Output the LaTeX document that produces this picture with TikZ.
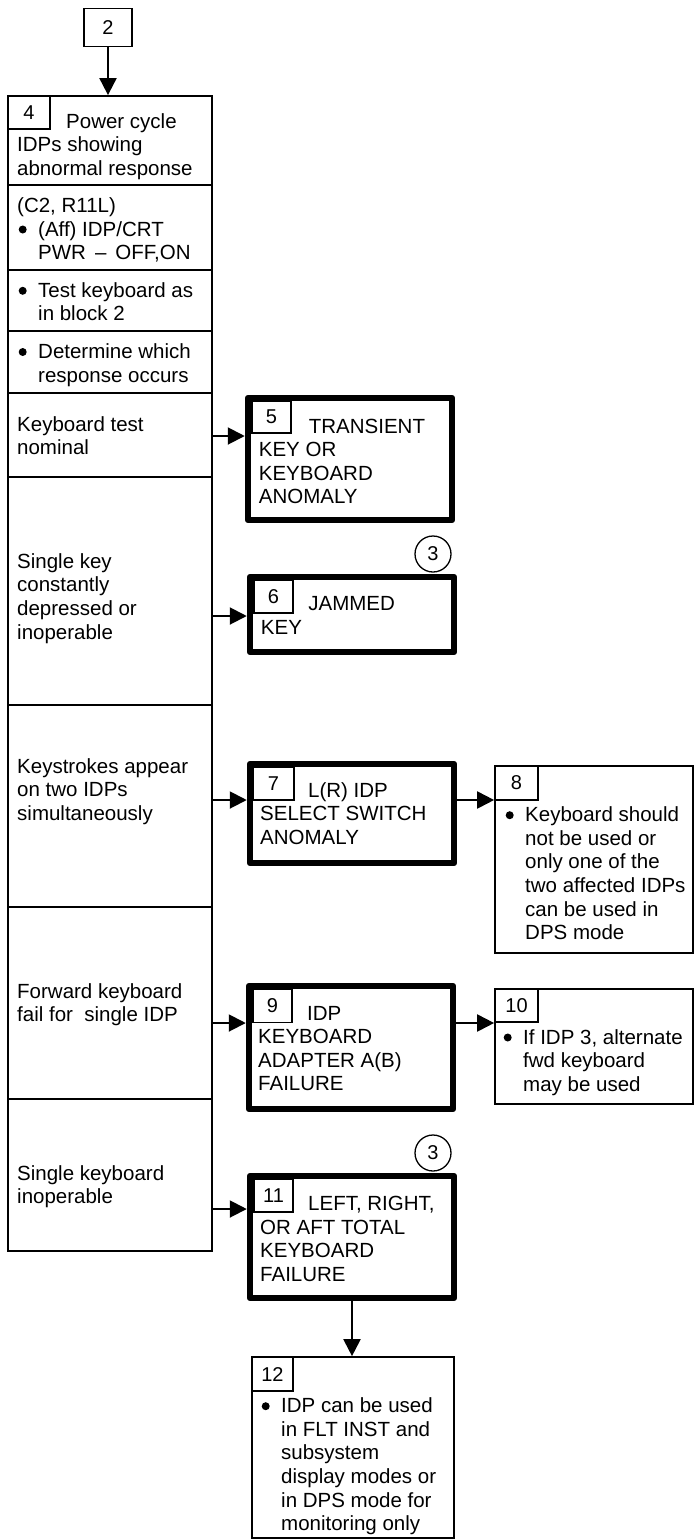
\documentclass[tikz,border=0pt]{standalone}
\usepackage{fontspec}
\setmainfont{Liberation Sans}
\usetikzlibrary{arrows.meta,calc}
\newcommand{\ktext}{\fontsize{20.5}{23.6}\selectfont}
\newcommand{\knumf}{\fontsize{20}{22}\selectfont}
\newcommand{\kbul}{\llap{\raisebox{2.5pt}{\tikz\fill (0,0) circle (4pt);}\hspace{11.5pt}}}
\newcommand{\klines}[1]{\begin{tabular}[t]{@{}l@{}}#1\end{tabular}}
\tikzset{
  kcell/.style={draw,line width=1.8pt,inner sep=0pt,minimum width=204pt},
  kheavy/.style={draw,line width=6.5pt,line join=round,inner sep=0pt,minimum width=204pt},
  kthin/.style={draw,line width=1.7pt,inner sep=0pt},
  knum/.style={draw,line width=1.6pt,inner sep=0pt,minimum width=41pt,minimum height=33pt,font=\knumf},
  ktxt/.style={anchor=base west,inner sep=0pt,font=\ktext},
  karr/.style={line width=2pt,-{Triangle[length=17pt,width=17pt]}},
  kref/.style={draw,circle,line width=1.3pt,minimum size=36pt,inner sep=0pt,font=\knumf},
}

\begin{document}
\begin{tikzpicture}[x=1pt,y=-1pt]
\useasboundingbox (0,0) rectangle (696,1540);
% entry block
\node[knum,minimum width=48pt,minimum height=38pt] (b2) at (108,27.5) {2};
% left column of responses
\node[kcell,minimum height=89pt] (r1) at (110,140.5) {};
\node[kcell,minimum height=85pt] (r2) at (110,227.5) {};
\node[kcell,minimum height=61pt] (r3) at (110,300.5) {};
\node[kcell,minimum height=62pt] (r4) at (110,362) {};
\node[kcell,minimum height=84pt] (r5) at (110,435) {};
\node[kcell,minimum height=228pt] (r6) at (110,591) {};
\node[kcell,minimum height=202pt] (r7) at (110,806) {};
\node[kcell,minimum height=192pt] (r8) at (110,1003) {};
\node[kcell,minimum height=152pt] (r9) at (110,1175) {};
\node[knum,minimum width=42pt] (n4) at (29,112.5) {4};
\node[ktxt] (t1) at (17,128) {\klines{\hspace*{49pt}Power cycle\\IDPs showing\\abnormal response}};
\node[ktxt] (t2a) at (17,212) {(C2, R11L)};
\node[ktxt] (t2b) at (38,236) {\klines{\kbul(Aff) IDP/CRT\\PWR\hspace{9pt}\textendash\hspace{9pt}OFF,ON}};
\node[ktxt] (t3) at (38,297.3) {\klines{\kbul Test keyboard as\\in block 2}};
\node[ktxt] (t4) at (38,358.5) {\klines{\kbul Determine which\\response occurs}};
\node[ktxt] (t5) at (17,431) {\klines{Keyboard test\\nominal}};
\node[ktxt] (t6) at (17,568.3) {\klines{Single key\\constantly\\depressed or\\inoperable}};
\node[ktxt] (t7) at (17,773.3) {\klines{Keystrokes appear\\on two IDPs\\simultaneously}};
\node[ktxt] (t8) at (17,998.3) {\klines{Forward keyboard\\fail for\ \ single IDP}};
\node[ktxt] (t9) at (17,1180) {\klines{Single keyboard\\inoperable}};
% outcome blocks
\node[kheavy,minimum height=122pt] (b5) at (350,459) {};
\node[knum,minimum width=39pt,minimum height=32pt] (n5) at (271.5,417) {5};
\node[ktxt] (tb5) at (258.7,433) {\klines{\hspace*{50pt}TRANSIENT\\KEY OR\\KEYBOARD\\ANOMALY}};
\node[kref] (c6) at (433,554) {3};
\node[kheavy,minimum height=75pt] (b6) at (352,614.5) {};
\node[knum,minimum width=39pt] (n6) at (273.5,596.5) {6};
\node[ktxt] (tb6) at (260.7,610.7) {\klines{\hspace*{47.5pt}JAMMED\\KEY}};
\node[kheavy,minimum height=99pt] (b7) at (352,813.5) {};
\node[knum] (n7) at (273.5,783.5) {7};
\node[ktxt] (tb7) at (260,797.3) {\klines{\hspace*{48pt}L(R) IDP\\SELECT SWITCH\\ANOMALY}};
\node[kthin,minimum width=198pt,minimum height=187pt] (b8) at (594,859.5) {};
\node[knum,minimum width=43pt,minimum height=34pt] (n8) at (516.5,783) {8};
\node[ktxt] (tb8) at (525,821.7) {\klines{\kbul Keyboard should\\not be used or\\only one of the\\two affected IDPs\\can be used in\\DPS mode}};
\node[kheavy,minimum height=123pt] (b9) at (351,1047.5) {};
\node[knum,minimum width=39pt] (n9) at (272.5,1006) {9};
\node[ktxt] (tb9) at (258,1020) {\klines{\hspace*{49pt}IDP\\KEYBOARD\\ADAPTER A(B)\\FAILURE}};
\node[kthin,minimum width=198pt,minimum height=115pt] (b10) at (594,1046.5) {};
\node[knum,minimum width=43pt] (n10) at (516.5,1005.5) {10};
\node[ktxt] (tb10) at (523,1044) {\klines{\kbul If IDP 3, alternate\\fwd keyboard\\may be used}};
\node[kref] (c11) at (433,1153) {3};
\node[kheavy,minimum height=122pt] (b11) at (352,1237) {};
\node[knum,minimum width=39pt] (n11) at (273.5,1195.5) {11};
\node[ktxt] (tb11) at (260,1210.7) {\klines{\hspace*{48pt}LEFT, RIGHT,\\OR AFT TOTAL\\KEYBOARD\\FAILURE}};
\node[kthin,minimum width=202pt,minimum height=181pt] (b12) at (353,1447.5) {};
\node[knum,minimum height=34pt] (n12) at (272.5,1374) {12};
\node[ktxt] (tb12) at (281,1412.7) {\klines{\kbul IDP can be used\\in FLT INST and\\subsystem\\display modes or\\in DPS mode for\\monitoring only}};
% arrow levels
\coordinate (lv5) at (0,436);
\coordinate (lv6) at (0,616);
\coordinate (lv7) at (0,800);
\coordinate (lv9) at (0,1023);
\coordinate (lv11) at (0,1209);
% connectors
\draw[karr] (b2.south) -- (b2.south |- r1.north);
\draw[karr] (r5.east |- lv5) -- (b5.west |- lv5);
\draw[karr] (r6.east |- lv6) -- (b6.west |- lv6);
\draw[karr] (r7.east |- lv7) -- (b7.west |- lv7);
\draw[karr] (b7.east |- lv7) -- (b8.west |- lv7);
\draw[karr] (r8.east |- lv9) -- (b9.west |- lv9);
\draw[karr] (b9.east |- lv9) -- (b10.west |- lv9);
\draw[karr] (r9.east |- lv11) -- (b11.west |- lv11);
\draw[karr] (b11.south) -- (b11.south |- b12.north);
\end{tikzpicture}
\end{document}
